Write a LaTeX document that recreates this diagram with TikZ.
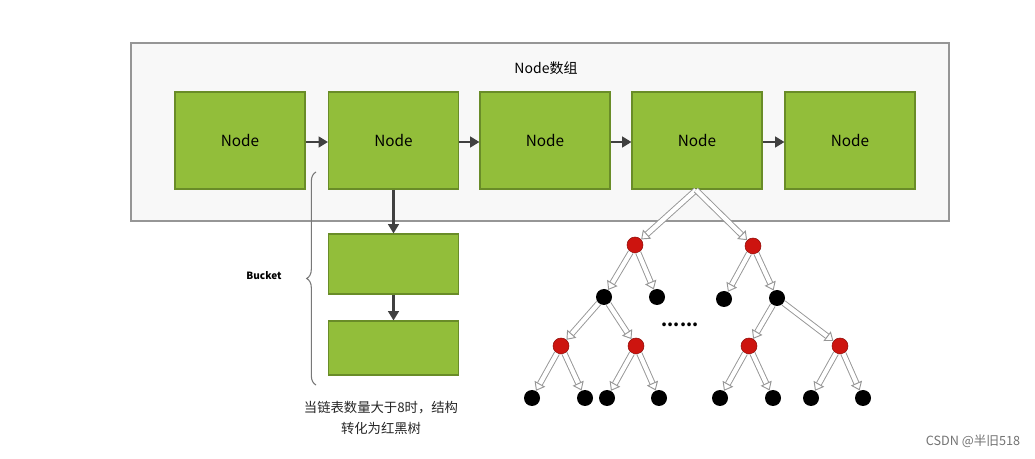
\documentclass[tikz,border=0pt]{standalone}
\usepackage{fontspec}
\setmainfont{Noto Sans CJK SC}
\usetikzlibrary{arrows.meta,decorations.pathreplacing}
\definecolor{gfill}{RGB}{146,190,58}
\definecolor{gdraw}{RGB}{105,140,40}
\definecolor{panelfill}{RGB}{248,248,248}
\definecolor{paneldraw}{RGB}{150,150,150}
\definecolor{arrowc}{RGB}{64,64,64}
\definecolor{redn}{RGB}{205,20,15}
\definecolor{hollowc}{RGB}{150,150,150}
\begin{document}
\begin{tikzpicture}[x=0.75pt,y=-0.75pt,
  gbox/.style={draw=gdraw,fill=gfill,line width=0.8pt,minimum width=97.5pt,minimum height=72.75pt,inner sep=0pt,font=\fontsize{11.5}{13}\selectfont},
  bbox/.style={draw=gdraw,fill=gfill,line width=0.8pt,minimum width=97.5pt,inner sep=0pt},
  harrow/.style={draw=arrowc,line width=1.7pt,-{Triangle[length=7pt,width=8pt]}},
  rnode/.style={circle,fill=redn,draw=redn!70!black,line width=0.4pt,minimum size=12pt,inner sep=0pt},
  bnode/.style={circle,fill=black,minimum size=12pt,inner sep=0pt},
  tarrow/.style={draw=hollowc,line width=0.7pt,double=white,double distance=3.2pt,-{Triangle[length=6pt,width=9pt,fill=white]}}
]
\useasboundingbox (0,0) rectangle (1035,459);
\fill[white] (0,0) rectangle (1035,459);
% panel
\draw[draw=paneldraw,fill=panelfill,line width=1pt] (131,43) rectangle (949,221);
\node[font=\fontsize{10.5}{12}\selectfont] (title) at (546,68) {Node数组};
% array nodes
\node[gbox] (n1) at (240,140.5) {Node};
\node[gbox] (n2) at (393.5,140.5) {Node};
\node[gbox] (n3) at (545,140.5) {Node};
\node[gbox] (n4) at (697,140.5) {Node};
\node[gbox] (n5) at (850,140.5) {Node};
\draw[harrow] (n1.east |- 0,142) -- (n2.west |- 0,142);
\draw[harrow] (n2.east |- 0,142) -- (n3.west |- 0,142);
\draw[harrow] (n3.east |- 0,142) -- (n4.west |- 0,142);
\draw[harrow] (n4.east |- 0,142) -- (n5.west |- 0,142);
% bucket
\node[bbox,minimum height=45pt] (b1) at (393.5,264) {};
\node[bbox,minimum height=40.5pt] (b2) at (393.5,348) {};
\draw[harrow] (n2.south) -- (b1.north);
\draw[harrow] (b1.south) -- (b2.north);
\coordinate (brbot) at (316,385);
\coordinate (brtop) at (316,172);
\draw[draw=paneldraw!80!black,line width=0.8pt,decorate,decoration={brace,amplitude=7pt}] (brbot) -- (brtop);
\node[font=\bfseries\fontsize{7.5}{9}\selectfont] (bucket) at (264,276) {Bucket};
\node[align=center,font=\fontsize{10}{15.5}\selectfont,text=black!85] (cap) at (381,418) {当链表数量大于8时，结构\\转化为红黑树};
% tree
\node[rnode] (r1) at (635,245) {};
\node[rnode] (r2) at (753,246) {};
\node[bnode] (k1) at (604,297) {};
\node[bnode] (k2) at (657,297) {};
\node[bnode] (k3) at (724,299) {};
\node[bnode] (k4) at (777,298) {};
\node[rnode] (r3) at (561,346) {};
\node[rnode] (r4) at (636,346) {};
\node[rnode] (r5) at (749,346) {};
\node[rnode] (r6) at (840,346) {};
\node[bnode] (l1) at (532,398) {};
\node[bnode] (l2) at (585,398) {};
\node[bnode] (l3) at (607,398) {};
\node[bnode] (l4) at (659,398) {};
\node[bnode] (l5) at (720,398) {};
\node[bnode] (l6) at (773,398) {};
\node[bnode] (l7) at (811,398) {};
\node[bnode] (l8) at (863,398) {};
\coordinate (top) at (696,190);
\draw[tarrow] (top) -- (r1);
\draw[tarrow] (top) -- (r2);
\draw[tarrow] (r1) -- (k1);
\draw[tarrow] (r1) -- (k2);
\draw[tarrow] (r2) -- (k3);
\draw[tarrow] (r2) -- (k4);
\draw[tarrow] (k1) -- (r3);
\draw[tarrow] (k1) -- (r4);
\draw[tarrow] (k4) -- (r5);
\draw[tarrow] (k4) -- (r6);
\draw[tarrow] (r3) -- (l1);
\draw[tarrow] (r3) -- (l2);
\draw[tarrow] (r4) -- (l3);
\draw[tarrow] (r4) -- (l4);
\draw[tarrow] (r5) -- (l5);
\draw[tarrow] (r5) -- (l6);
\draw[tarrow] (r6) -- (l7);
\draw[tarrow] (r6) -- (l8);
\node[font=\bfseries\fontsize{13}{14}\selectfont] (dots) at (680,325) {......};
% watermark
\node[text=black!55,font=\fontsize{9.5}{11}\selectfont] (wm) at (973,441) {CSDN @半旧518};
\end{tikzpicture}
\end{document}
